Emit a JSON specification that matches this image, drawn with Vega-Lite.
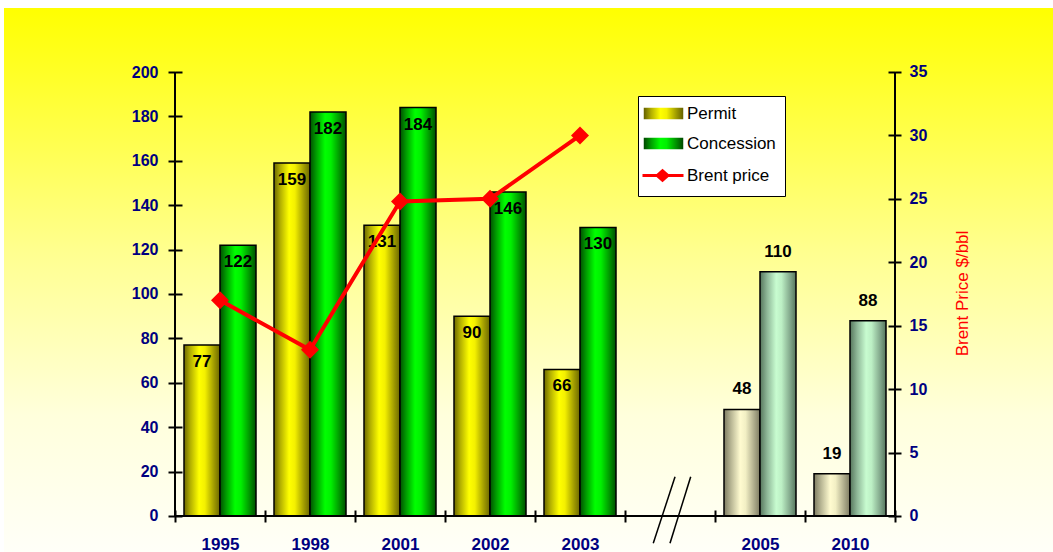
{
  "$schema": "https://vega.github.io/schema/vega-lite/v6.json",
  "width": 1049,
  "height": 544,
  "autosize": {"type": "none"},
  "padding": {"left": 4, "top": 8, "right": 0, "bottom": 0},
  "background": "white",
  "view": {
    "stroke": null,
    "fill": {"gradient": "linear", "x1": 0, "y1": 0, "x2": 0, "y2": 1,
      "stops": [{"offset": 0, "color": "#ffff00"}, {"offset": 0.45, "color": "#ffff90"}, {"offset": 0.75, "color": "#ffffdc"}, {"offset": 1, "color": "#fffff8"}]}
  },
  "config": {"font": "Liberation Sans"},
  "datasets": {
    "bars": [
      {"year": "1995", "type": "Permit", "status": "actual", "value": 77},
      {"year": "1995", "type": "Concession", "status": "actual", "value": 122},
      {"year": "1998", "type": "Permit", "status": "actual", "value": 159},
      {"year": "1998", "type": "Concession", "status": "actual", "value": 182},
      {"year": "2001", "type": "Permit", "status": "actual", "value": 131},
      {"year": "2001", "type": "Concession", "status": "actual", "value": 184},
      {"year": "2002", "type": "Permit", "status": "actual", "value": 90},
      {"year": "2002", "type": "Concession", "status": "actual", "value": 146},
      {"year": "2003", "type": "Permit", "status": "actual", "value": 66},
      {"year": "2003", "type": "Concession", "status": "actual", "value": 130},
      {"year": "2005", "type": "Permit", "status": "projected", "value": 48},
      {"year": "2005", "type": "Concession", "status": "projected", "value": 110},
      {"year": "2010", "type": "Permit", "status": "projected", "value": 19},
      {"year": "2010", "type": "Concession", "status": "projected", "value": 88}
    ],
    "brent": [
      {"year": "1995", "brent": 17.0},
      {"year": "1998", "brent": 13.1},
      {"year": "2001", "brent": 24.8},
      {"year": "2002", "brent": 25.0},
      {"year": "2003", "brent": 30.0}
    ]
  },
  "resolve": {"scale": {"y": "independent"}, "axis": {"y": "independent", "x": "independent"}},
  "layer": [
    {
      "resolve": {"axis": {"y": "independent", "x": "independent"}},
      "layer": [
        {
          "data": {"name": "bars"},
          "transform": [{"filter": "datum.status === 'actual'"}],
          "mark": {"type": "bar", "stroke": "#000000", "strokeWidth": 1.5},
          "encoding": {
            "x": {"field": "year", "type": "nominal",
              "scale": {"domain": ["1995", "1998", "2001", "2002", "2003", " ", "2005", "2010"], "range": [171, 891], "paddingInner": 0, "paddingOuter": 0},
              "axis": {"orient": "bottom", "offset": -36, "title": null, "domain": false, "tickBand": "extent", "tickSize": 6, "tickColor": "#000000", "tickWidth": 2, "labelFont": "Liberation Sans", "labelFontSize": 17, "labelFontWeight": "bold", "labelColor": "#000080", "labelPadding": 14, "labelAngle": 0, "grid": false}},
            "xOffset": {"field": "type", "type": "nominal", "scale": {"domain": ["Permit", "Concession"], "paddingInner": 0, "paddingOuter": 0.25}},
            "y": {"field": "value", "type": "quantitative",
              "scale": {"domain": [-16.22, 228.83], "nice": false, "zero": false},
              "axis": {"orient": "left", "offset": -171, "title": null, "domain": false, "grid": false, "values": [0, 20, 40, 60, 80, 100, 120, 140, 160, 180, 200], "tickSize": 7, "tickColor": "#000000", "tickWidth": 2, "labelFont": "Liberation Sans", "labelFontSize": 16, "labelFontWeight": "bold", "labelColor": "#000080", "labelPadding": 10}},
            "y2": {"datum": 0},
            "color": {"field": "type", "type": "nominal",
              "scale": {"domain": ["Permit", "Concession", "Brent price"],
                "range": [
                  {"expr": "{gradient: 'linear', x1: 0, y1: 0, x2: 1, y2: 0, stops: [{offset: 0, color: '#6b6700'}, {offset: 0.18, color: '#b4b000'}, {offset: 0.42, color: '#ffff00'}, {offset: 0.58, color: '#f4f000'}, {offset: 0.85, color: '#9a9600'}, {offset: 1, color: '#6b6700'}]}"},
                  {"expr": "{gradient: 'linear', x1: 0, y1: 0, x2: 1, y2: 0, stops: [{offset: 0, color: '#004f00'}, {offset: 0.18, color: '#00a000'}, {offset: 0.42, color: '#00ff00'}, {offset: 0.58, color: '#00f000'}, {offset: 0.85, color: '#008a00'}, {offset: 1, color: '#004f00'}]}"},
                  "#ff0000"
                ]},
              "legend": {
                "orient": "none", "legendX": 634, "legendY": 88, "title": null,
                "values": ["Permit", "Concession", "Brent price"],
                "fillColor": "#ffffff", "strokeColor": "#000000", "padding": 9,
                "labelFont": "Liberation Sans", "labelFontSize": 17, "labelColor": "#000000", "labelOffset": 23,
                "rowPadding": 12, "symbolSize": 64,
                "symbolType": {"expr": "datum.value === 'Brent price' ? 'M-3.25,0H7M0.4,0L1.75,-1.2L3.1,0L1.75,1.2Z' : 'M-2.75,-1.25H6.75V1.25H-2.75Z'"},
                "symbolStrokeColor": {"expr": "datum.value === 'Brent price' ? '#ff0000' : '#000000'"},
                "symbolStrokeWidth": {"expr": "datum.value === 'Brent price' ? 3 : 1.5"},
                "symbolOpacity": 1,
                "encode": {
                  "legend": {"strokeWidth": {"value": 2}}
                }
              }}
          }
        },
        {
          "data": {"name": "bars"},
          "transform": [{"filter": "datum.status === 'projected'"}],
          "mark": {"type": "bar", "stroke": "#000000", "strokeWidth": 1.5},
          "encoding": {
            "x": {"field": "year", "type": "nominal", "axis": null},
            "xOffset": {"field": "type", "type": "nominal"},
            "y": {"field": "value", "type": "quantitative", "axis": null},
            "y2": {"datum": 0},
            "fill": {"field": "type", "type": "nominal", "legend": null,
              "scale": {"domain": ["Permit", "Concession"],
                "range": [
                  {"expr": "{gradient: 'linear', x1: 0, y1: 0, x2: 1, y2: 0, stops: [{offset: 0, color: '#7d7b62'}, {offset: 0.2, color: '#b9b795'}, {offset: 0.45, color: '#fffbd0'}, {offset: 0.6, color: '#f2efc4'}, {offset: 0.85, color: '#a9a788'}, {offset: 1, color: '#7d7b62'}]}"},
                  {"expr": "{gradient: 'linear', x1: 0, y1: 0, x2: 1, y2: 0, stops: [{offset: 0, color: '#56765c'}, {offset: 0.2, color: '#8fb898'}, {offset: 0.45, color: '#c8fcd0'}, {offset: 0.6, color: '#bcefc4'}, {offset: 0.85, color: '#7fa488'}, {offset: 1, color: '#56765c'}]}"}
                ]}}
          }
        },
        {
          "data": {"name": "bars"},
          "transform": [{"filter": "datum.status === 'actual'"}],
          "mark": {"type": "text", "font": "Liberation Sans", "fontSize": 17, "fontWeight": "bold", "color": "#000000", "baseline": "middle", "dy": 17},
          "encoding": {
            "x": {"field": "year", "type": "nominal", "axis": null},
            "xOffset": {"field": "type", "type": "nominal"},
            "y": {"field": "value", "type": "quantitative", "axis": null},
            "text": {"field": "value", "type": "quantitative"}
          }
        },
        {
          "data": {"name": "bars"},
          "transform": [{"filter": "datum.status === 'projected'"}],
          "mark": {"type": "text", "font": "Liberation Sans", "fontSize": 17, "fontWeight": "bold", "color": "#000000", "baseline": "middle", "dy": -20},
          "encoding": {
            "x": {"field": "year", "type": "nominal", "axis": null},
            "xOffset": {"field": "type", "type": "nominal"},
            "y": {"field": "value", "type": "quantitative", "axis": null},
            "text": {"field": "value", "type": "quantitative"}
          }
        },
        {
          "data": {"values": [{}]},
          "mark": {"type": "rule", "color": "#000000", "strokeWidth": 2},
          "encoding": {
            "x": {"datum": "1995", "type": "nominal", "bandPosition": 0, "axis": null},
            "y": {"datum": 0, "type": "quantitative",
              "axis": {"orient": "left", "offset": -171, "title": null, "domain": false, "grid": false, "labels": false, "values": [0, 20, 40, 60, 80, 100, 120, 140, 160, 180, 200], "tickSize": -7, "tickColor": "#000000", "tickWidth": 2}},
            "y2": {"datum": 200}
          }
        },
        {
          "data": {"values": [{}]},
          "mark": {"type": "rule", "color": "#000000", "strokeWidth": 2},
          "encoding": {
            "x": {"datum": "1995", "type": "nominal", "bandPosition": 0,
              "axis": {"orient": "bottom", "offset": -36, "title": null, "domain": false, "grid": false, "labels": false, "tickBand": "extent", "tickSize": -6, "tickColor": "#000000", "tickWidth": 2}},
            "x2": {"datum": "2010", "bandPosition": 1},
            "y": {"datum": 0, "type": "quantitative", "axis": null}
          }
        },
        {
          "data": {"values": [{}]},
          "mark": {"type": "rule", "color": "#000000", "strokeWidth": 1.5},
          "encoding": {
            "x": {"datum": " ", "type": "nominal", "bandPosition": 0.556, "axis": null},
            "x2": {"datum": " ", "bandPosition": 0.314},
            "y": {"datum": 17.7, "type": "quantitative", "axis": null},
            "y2": {"datum": -12.3}
          }
        },
        {
          "data": {"values": [{}]},
          "mark": {"type": "rule", "color": "#000000", "strokeWidth": 1.5},
          "encoding": {
            "x": {"datum": " ", "type": "nominal", "bandPosition": 0.73, "axis": null},
            "x2": {"datum": " ", "bandPosition": 0.5},
            "y": {"datum": 17.7, "type": "quantitative", "axis": null},
            "y2": {"datum": -12.3}
          }
        }
      ]
    },
    {
      "resolve": {"axis": {"y": "independent", "x": "independent"}},
      "layer": [
        {
          "data": {"values": [{}]},
          "mark": {"type": "rule", "color": "#000000", "strokeWidth": 2},
          "encoding": {
            "x": {"datum": "2010", "type": "nominal", "bandPosition": 1, "axis": null},
            "y": {"datum": 0, "type": "quantitative",
              "scale": {"domain": [-2.838, 40.045], "nice": false, "zero": false},
              "axis": {"orient": "right", "offset": -158, "title": null, "domain": false, "grid": false, "labels": false, "values": [0, 5, 10, 15, 20, 25, 30, 35], "tickSize": -7, "tickColor": "#000000", "tickWidth": 2}},
            "y2": {"datum": 35}
          }
        },
        {
          "data": {"name": "brent"},
          "mark": {"type": "line", "strokeWidth": 4},
          "encoding": {
            "x": {"field": "year", "type": "nominal", "axis": null},
            "y": {"field": "brent", "type": "quantitative",
              "axis": {"orient": "right", "offset": -158, "title": "Brent Price $/bbl", "titleColor": "#ff0000", "titleFont": "Liberation Sans", "titleFontSize": 17, "titleFontWeight": "normal", "titleAngle": 270, "titleX": 67, "titleY": 285, "titleAlign": "center", "titleBaseline": "middle", "domain": false, "grid": false, "values": [0, 5, 10, 15, 20, 25, 30, 35], "tickSize": 6, "tickColor": "#000000", "tickWidth": 2, "labelFont": "Liberation Sans", "labelFontSize": 16, "labelFontWeight": "bold", "labelColor": "#000080", "labelPadding": 8}},
            "color": {"datum": "Brent price", "type": "nominal", "legend": null}
          }
        },
        {
          "data": {"name": "brent"},
          "mark": {"type": "point", "shape": "diamond", "filled": true, "size": 324, "opacity": 1},
          "encoding": {
            "x": {"field": "year", "type": "nominal", "axis": null},
            "y": {"field": "brent", "type": "quantitative", "axis": null},
            "color": {"datum": "Brent price", "type": "nominal", "legend": null}
          }
        }
      ]
    }
  ]
}
